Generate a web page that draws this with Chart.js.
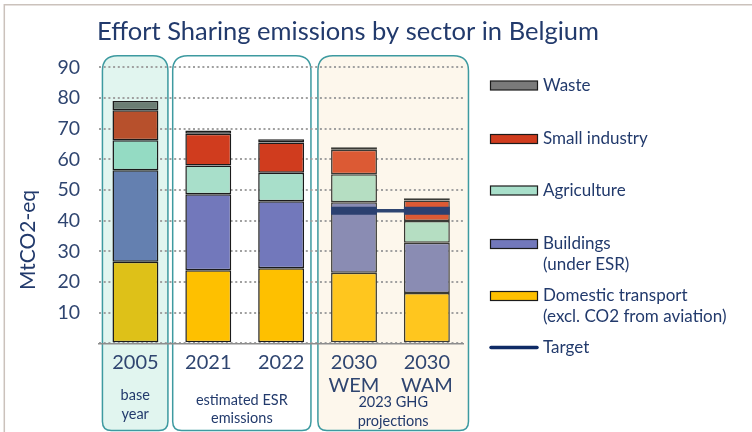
<!DOCTYPE html>
<html>
<head>
<meta charset="utf-8">
<script src="https://cdn.jsdelivr.net/npm/chart.js@4.4.1/dist/chart.umd.min.js"></script>
<style>
html,body{margin:0;padding:0;background:#fff;}
#wrap{width:752px;height:432px;position:relative;}
</style>
</head>
<body>
<div id="wrap"><canvas id="c" width="752" height="432"></canvas></div>
<script>
// ---- data ----
const categories = [['2005'], ['2021'], ['2022'], ['2030', 'WEM'], ['2030', 'WAM']];
const transport   = [26.6, 23.8, 24.5, 23.0, 16.4];
const buildings   = [29.8, 24.8, 21.8, 23.0, 16.4];
const agriculture = [9.8, 9.4, 9.3, 9.1, 7.1];
const smallIndustry = [9.8, 10.3, 9.9, 8.0, 6.7];
const waste       = [3.0, 1.1, 1.0, 0.8, 0.7];
const target      = [null, null, null, 43.2, 43.2];
const yTicks = [10, 20, 30, 40, 50, 60, 70, 80, 90];
const seriesNames = {
  waste: ['Waste'],
  small: ['Small industry'],
  agri: ['Agriculture'],
  build: ['Buildings', '(under ESR)'],
  trans: ['Domestic transport', '(excl. CO2 from aviation)'],
  target: ['Target']
};
const groups = [
  {from: 0, to: 0, label: ['base', 'year']},
  {from: 1, to: 2, label: ['estimated ESR', 'emissions']},
  {from: 3, to: 4, label: ['2023 GHG', 'projections']}
];
const titleText = 'Effort Sharing emissions by sector in Belgium';
const yTitle = 'MtCO2-eq';

// ---- styles ----
const NAVY = '#223a6c';
const TICK = '#2f4570';
const col = {
  trans: ['#dec118', '#fec000', '#fec000', '#ffc61e', '#ffc61e'],
  build: ['#6480b0', '#7278bb', '#7278bb', '#8a8cb3', '#8a8cb3'],
  agri:  ['#94dbc3', '#a8dfca', '#a8dfca', '#b5dec2', '#b5dec2'],
  small: ['#b7502c', '#d03c1e', '#d03c1e', '#dc5a34', '#dc5a34'],
  waste: ['#6b7e74', '#7a7a7a', '#7a7a7a', '#777266', '#777266']
};
const borderCols = ['#1b1b1b', '#1b1b1b', '#1b1b1b', '#3a3a35', '#3a3a35'];
const legendCols = {waste: '#7a7a7a', small: '#d03c1e', agri: '#a8dfca', build: '#7278bb', trans: '#fec000', target: '#0f2b66'};
const groupStyle = [
  {padL: 33, padR: 32.5, fill: '#e1f5ef', ly: [395, 414]},
  {padL: 35.6, padR: 29.8, fill: '#ffffff', ly: [400, 418]},
  {padL: 36.1, padR: 41.6, fill: '#fdf7ec', ly: [402, 421]}
];
const FONT = 'Lato, "Open Sans", sans-serif';

function rrect(ctx, x, y, w, h, rt, rb) {
  ctx.beginPath();
  ctx.moveTo(x + rt, y);
  ctx.lineTo(x + w - rt, y);
  ctx.quadraticCurveTo(x + w, y, x + w, y + rt);
  ctx.lineTo(x + w, y + h - rb);
  ctx.quadraticCurveTo(x + w, y + h, x + w - rb, y + h);
  ctx.lineTo(x + rb, y + h);
  ctx.quadraticCurveTo(x, y + h, x, y + h - rb);
  ctx.lineTo(x, y + rt);
  ctx.quadraticCurveTo(x, y, x + rt, y);
  ctx.closePath();
}

const decor = {
  id: 'decor',
  beforeDraw(chart) {
    const ctx = chart.ctx;
    const xs = chart.scales.x;
    ctx.save();
    // frame
    ctx.strokeStyle = '#cbc2bc';
    ctx.lineWidth = 1.5;
    ctx.beginPath();
    ctx.moveTo(4.3, 432); ctx.lineTo(4.3, 4.8); ctx.lineTo(752, 4.8);
    ctx.stroke();
    // group boxes
    groups.forEach((g, i) => {
      const st = groupStyle[i];
      const l = xs.getPixelForValue(g.from) - st.padL;
      const r = xs.getPixelForValue(g.to) + st.padR;
      rrect(ctx, l, 55.7, r - l, 430.5 - 55.7, 15, 9);
      ctx.fillStyle = st.fill;
      ctx.fill();
      ctx.strokeStyle = '#3d9aa0';
      ctx.lineWidth = 1.5;
      ctx.stroke();
    });
    ctx.restore();
  },
  afterDraw(chart) {
    const ctx = chart.ctx;
    const xs = chart.scales.x;
    ctx.save();
    // title
    ctx.fillStyle = NAVY;
    ctx.font = '25.5px ' + FONT;
    ctx.textBaseline = 'middle';
    ctx.textAlign = 'left';
    ctx.fillText(titleText, 97, 32);
    // y title
    ctx.save();
    ctx.translate(28, 240);
    ctx.rotate(-Math.PI / 2);
    ctx.font = '21px ' + FONT;
    ctx.textAlign = 'center';
    ctx.fillStyle = NAVY;
    ctx.fillText(yTitle, 0, 0);
    ctx.restore();
    // group labels
    ctx.font = '14.5px ' + FONT;
    ctx.textAlign = 'center';
    ctx.fillStyle = NAVY;
    groups.forEach((g, i) => {
      const st = groupStyle[i];
      const l = xs.getPixelForValue(g.from) - st.padL;
      const r = xs.getPixelForValue(g.to) + st.padR;
      g.label.forEach((t, k) => ctx.fillText(t, (l + r) / 2, st.ly[k]));
    });
    // legend
    const items = [
      ['waste', 85.5], ['small', 139], ['agri', 190.5], ['build', 244], ['trans', 296], ['target', 347.5]
    ];
    ctx.font = '17px ' + FONT;
    ctx.textAlign = 'left';
    items.forEach(([k, y]) => {
      if (k === 'target') {
        ctx.strokeStyle = legendCols[k];
        ctx.lineWidth = 3.5;
        ctx.lineCap = 'round';
        ctx.beginPath(); ctx.moveTo(491, y); ctx.lineTo(537, y); ctx.stroke();
      } else {
        ctx.fillStyle = legendCols[k];
        ctx.fillRect(490.5, y - 4.5, 47, 9);
        ctx.strokeStyle = '#1b1b1b';
        ctx.lineWidth = 1.2;
        ctx.strokeRect(490.5, y - 4.5, 47, 9);
      }
      ctx.fillStyle = NAVY;
      seriesNames[k].forEach((t, j) => ctx.fillText(t, 543, y + j * 20.8));
    });
    ctx.restore();
  }
};

const barBase = {borderWidth: 1.5, borderColor: borderCols, borderSkipped: false, barPercentage: 0.9, categoryPercentage: 0.7};

new Chart(document.getElementById('c'), {
  type: 'bar',
  data: {
    labels: categories,
    datasets: [
      Object.assign({label: 'Domestic transport', data: transport, backgroundColor: col.trans}, barBase),
      Object.assign({label: 'Buildings', data: buildings, backgroundColor: col.build}, barBase),
      Object.assign({label: 'Agriculture', data: agriculture, backgroundColor: col.agri}, barBase),
      Object.assign({label: 'Small industry', data: smallIndustry, backgroundColor: col.small}, barBase),
      Object.assign({label: 'Waste', data: waste, backgroundColor: col.waste}, barBase),
      {label: 'Target', type: 'bar', stack: 'target', grouped: false, order: -2,
       data: target.map(v => v == null ? null : [v - 1.3, v + 1.3]),
       backgroundColor: '#2b4070', borderWidth: 0, barPercentage: 0.9, categoryPercentage: 0.7},
      {label: 'Target line', type: 'line', data: target, order: -1,
       borderColor: '#2f4672', borderWidth: 3.5, pointRadius: 0, spanGaps: false}
    ]
  },
  options: {
    responsive: false,
    animation: false,
    events: [],
    layout: {padding: {left: 0, right: 288.7, top: 67.3, bottom: 0}},
    plugins: {legend: {display: false}, tooltip: {enabled: false}, title: {display: false}},
    scales: {
      x: {
        stacked: true,
        grid: {display: false},
        border: {display: true, color: '#8d8d8d', width: 1.5},
        ticks: {color: TICK, font: {family: FONT, size: 20, lineHeight: 1.15}, padding: 0, maxRotation: 0, autoSkip: false},
        afterFit(s) { s.height = 432 - 343.3; }
      },
      y: {
        stacked: true,
        min: 0, max: 90,
        afterFit(s) { s.width = 99; },
        afterBuildTicks(s) { s.ticks = [0].concat(yTicks).map(v => ({value: v})); },
        grid: {color: '#a0a0a0', lineWidth: 2, drawTicks: false},
        border: {display: false, dash: [2, 2.7]},
        ticks: {color: TICK, font: {family: FONT, size: 19.5}, padding: 19,
          callback: v => (v === 0 ? '' : v)}
      }
    }
  },
  plugins: [decor]
});
</script>
</body>
</html>
